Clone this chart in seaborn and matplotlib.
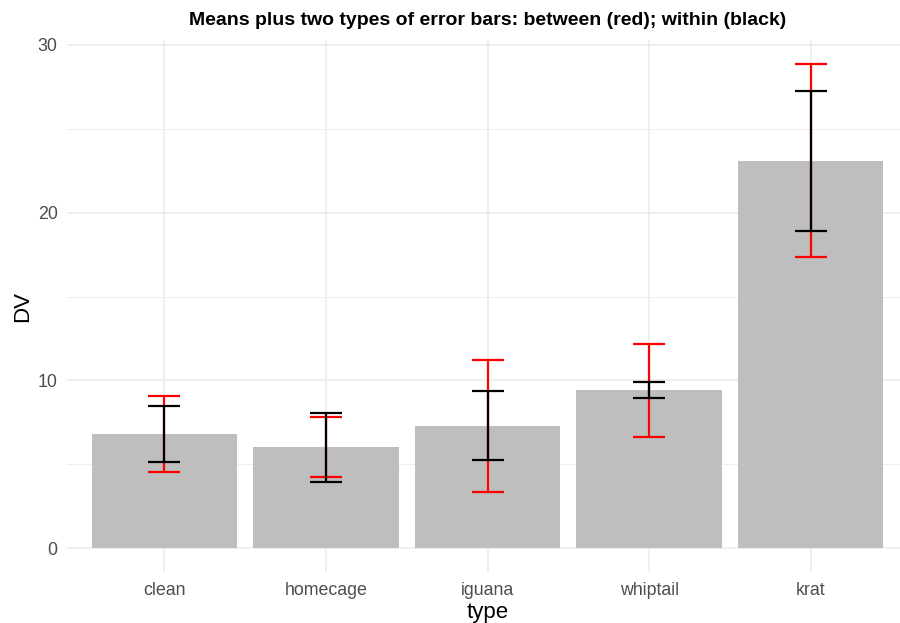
import matplotlib
matplotlib.use("Agg")
import matplotlib.pyplot as plt
import seaborn as sns
import numpy as np
import pandas as pd

categories = ["clean", "homecage", "iguana", "whiptail", "krat"]
means = [6.80, 6.02, 7.28, 9.42, 23.08]
between_lower = [4.55, 4.22, 3.36, 6.62, 17.36]
between_upper = [9.08, 7.83, 11.23, 12.18, 28.87]
within_lower = [5.15, 3.95, 5.25, 8.93, 18.92]
within_upper = [8.49, 8.03, 9.36, 9.88, 27.27]
y_ticks = [0, 10, 20, 30]

df = pd.DataFrame({"type": categories, "DV": means})

sns.set_theme(style="white")
plt.rcParams["font.family"] = ["Liberation Sans", "DejaVu Sans"]

W, H = 900, 623
fig = plt.figure(figsize=(W / 100, H / 100), dpi=100)
left, right, top, bottom = 67.3, 907.7, 39.8, 572.2
aw, ah = right - left, bottom - top
ax = fig.add_axes([left / W, 1 - bottom / H, aw / W, ah / H])

sns.barplot(data=df, x="type", y="DV", order=categories, color="#BEBEBE",
            saturation=1, width=0.9, errorbar=None, linewidth=0, ax=ax, zorder=2)

pos = np.arange(len(categories))
m = np.array(means)
ax.errorbar(pos, m, yerr=[m - np.array(between_lower), np.array(between_upper) - m],
            fmt="none", ecolor="#FF0000", elinewidth=1.6, capsize=11.6, capthick=1.6, zorder=3)
ax.errorbar(pos, m, yerr=[m - np.array(within_lower), np.array(within_upper) - m],
            fmt="none", ecolor="#000000", elinewidth=1.6, capsize=11.6, capthick=1.6, zorder=4)

ax.set_xlim(-0.6, len(categories) - 0.4)
ax.set_ylim(-1.44, 30.31)
ax.set_yticks(y_ticks)
ax.set_yticks([5, 15, 25], minor=True)
ax.grid(True, which="major", color="#EBEBEB", linewidth=1.1, zorder=0)
ax.grid(True, which="minor", axis="y", color="#EBEBEB", linewidth=0.6, zorder=0)
ax.set_axisbelow(True)
for s in ax.spines.values():
    s.set_visible(False)
ax.tick_params(axis="both", which="both", length=0, labelsize=12.8, labelcolor="#4D4D4D")
ax.tick_params(axis="y", pad=7)
ax.tick_params(axis="x", pad=7)

ax.set_xlabel("type", fontsize=16, color="black")
ax.xaxis.label.set_va("baseline")
ax.xaxis.set_label_coords(((left + right) / 2 - left) / aw, (bottom - 618.3) / ah)
ax.set_ylabel("DV", fontsize=16, color="black")
ax.yaxis.label.set_va("baseline")
ax.yaxis.set_label_coords((28.3 - left) / aw, 0.5)

fig.text((left + right) / 2 / W, 1 - 25 / H,
         "Means plus two types of error bars: between (red); within (black)",
         ha="center", va="baseline", fontsize=14, fontweight="bold", color="black")

fig.savefig("out.png", dpi=100)
